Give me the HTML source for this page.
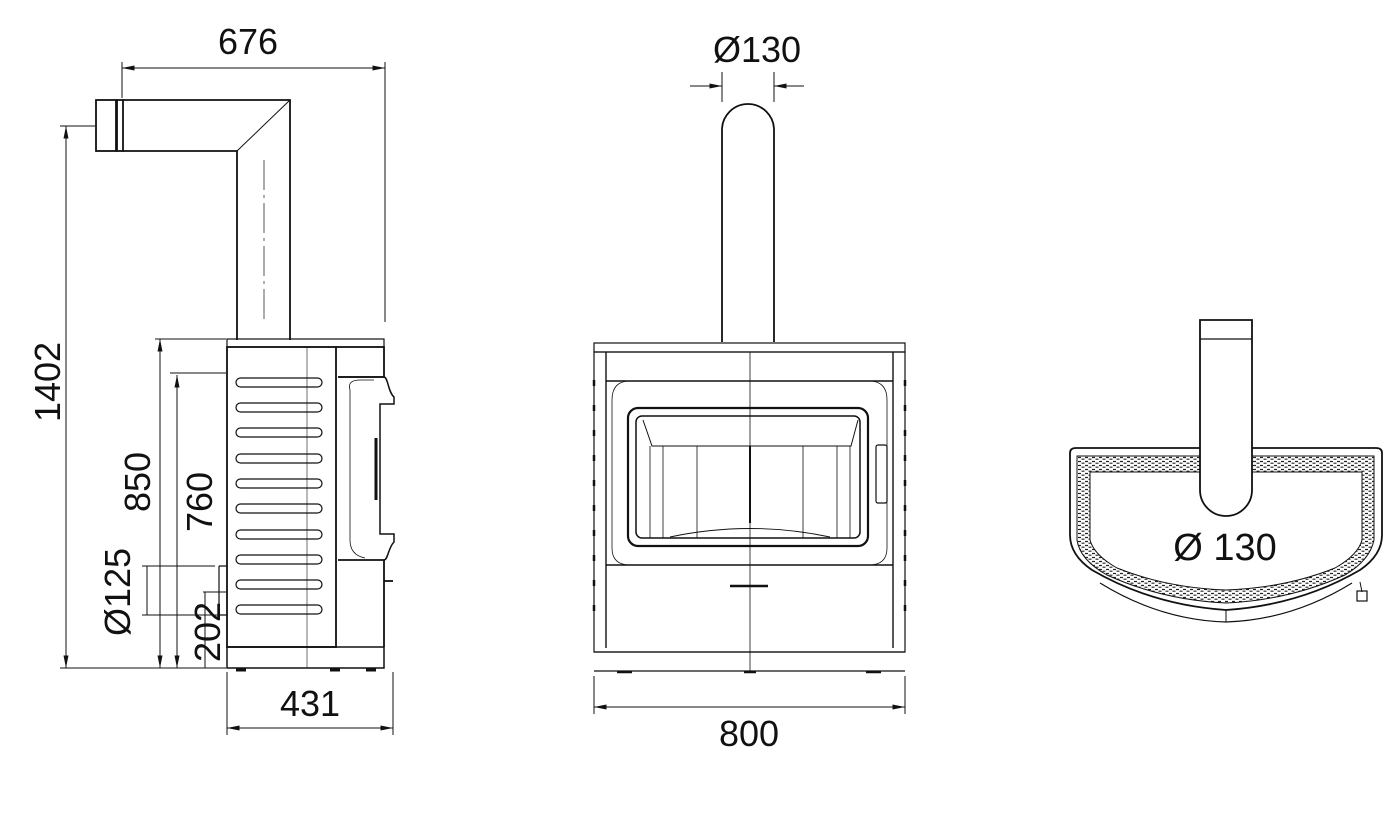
<!DOCTYPE html>
<html><head><style>
html,body{margin:0;padding:0;background:#fff;width:1400px;height:821px;overflow:hidden}
text{font-family:"Liberation Sans",sans-serif;fill:#111}
</style></head><body>
<svg width="1400" height="821" viewBox="0 0 1400 821" xmlns="http://www.w3.org/2000/svg">
<defs>
<marker id="a" viewBox="0 0 10 4" refX="10" refY="2" markerWidth="14" markerHeight="5" orient="auto-start-reverse" markerUnits="userSpaceOnUse"><path d="M0,0 L10,2 L0,4z" fill="#111"/></marker>
<pattern id="h" width="7" height="4" patternUnits="userSpaceOnUse"><path d="M0,1.5 h3 M3.5,3.2 h3" stroke="#222" stroke-width="1.2"/></pattern>
</defs>
<g fill="none" stroke="#111" stroke-width="1">
<line x1="122" y1="62" x2="122" y2="98"/>
<line x1="385" y1="62" x2="385" y2="322"/>
<line x1="122" y1="68" x2="385" y2="68" marker-start="url(#a)" marker-end="url(#a)"/>
<line x1="60" y1="126" x2="95" y2="126"/>
<line x1="60" y1="668" x2="226" y2="668"/>
<line x1="66" y1="126" x2="66" y2="668" marker-start="url(#a)" marker-end="url(#a)"/>
<line x1="155" y1="339" x2="226" y2="339"/>
<line x1="160" y1="339" x2="160" y2="668" marker-start="url(#a)" marker-end="url(#a)"/>
<line x1="170" y1="373" x2="226" y2="373"/>
<line x1="177" y1="375" x2="177" y2="668" marker-start="url(#a)" marker-end="url(#a)"/>
<line x1="142" y1="566" x2="215" y2="566"/>
<line x1="142" y1="615" x2="226" y2="615"/>
<line x1="147" y1="566" x2="147" y2="615"/>
<line x1="203" y1="592" x2="226" y2="592"/>
<line x1="205" y1="592" x2="205" y2="668"/>
<line x1="227" y1="672" x2="227" y2="735"/>
<line x1="393" y1="672" x2="393" y2="735"/>
<line x1="227" y1="728" x2="393" y2="728" marker-start="url(#a)" marker-end="url(#a)"/>
</g>
<g fill="none" stroke="#111" stroke-width="1.8">
<rect x="96" y="100" width="20" height="51"/>
<rect x="117" y="100" width="6" height="51"/>
<path d="M123,100 H290 V340 M123,151 H237 V340"/>
<line x1="237" y1="151" x2="290" y2="100" stroke-width="1"/>
<rect x="227" y="339" width="157" height="8" stroke-width="1.2"/>
<rect x="227" y="347" width="109" height="300"/>
<path d="M336,347 H384 V377 H338 M338,560 H384 V647"/>
<path d="M338,377 H384 C388,377 388,392 394,397 V404 H380 V534 H394 V542 C388,548 388,560 384,560" stroke-width="1.5"/>
<path d="M350,390 Q347,380 360,380 L374,380 M350,390 V540 Q350,555 365,558" stroke-width="0.8"/>
<line x1="376" y1="438" x2="376" y2="500" stroke-width="3"/>
<rect x="227" y="647" width="157" height="21" stroke-width="1.5"/>
<line x1="384" y1="581" x2="393" y2="581"/>
<path d="M219,566 H227 M219,566 V615 H227" stroke-width="1.2"/>
<g stroke-width="1.2">
<rect x="236" y="378" width="86" height="9" rx="4.5"/><rect x="236" y="403" width="86" height="9" rx="4.5"/>
<rect x="236" y="428" width="86" height="9" rx="4.5"/><rect x="236" y="454" width="86" height="9" rx="4.5"/>
<rect x="236" y="479" width="86" height="9" rx="4.5"/><rect x="236" y="504" width="86" height="9" rx="4.5"/>
<rect x="236" y="530" width="86" height="9" rx="4.5"/><rect x="236" y="555" width="86" height="9" rx="4.5"/>
<rect x="236" y="580" width="86" height="9" rx="4.5"/><rect x="236" y="605" width="86" height="9" rx="4.5"/>
</g>
<line x1="264" y1="160" x2="264" y2="320" stroke-width="0.7" stroke-dasharray="30,5,3,5"/>
<line x1="307" y1="347" x2="307" y2="668" stroke-width="0.6"/>
<path d="M236,670 h10 M330,670 h10 M366,670 h10" stroke-width="3"/>

<path d="M722,342 V130 A26,26 0 0 1 774,130 V342"/>
<rect x="594" y="343" width="311" height="9" stroke-width="1.2"/>
<rect x="594" y="352" width="311" height="300" stroke-width="1.2"/>
<path d="M606,352 V648 M893,352 V648 M606,381 H893 M606,565 H893" stroke-width="1.4"/>
<path d="M630,381 Q612,381 612,400 V548 Q612,565 630,565 H869 Q887,565 887,548 V400 Q887,381 869,381" stroke-width="0.8"/>
<rect x="628" y="408" width="240" height="138" rx="10" stroke-width="2.2"/>
<rect x="636" y="416" width="224" height="122" rx="6" stroke-width="1.5"/>
<path d="M643,420 L652,446 H851 L858,420" stroke-width="1"/>
<path d="M650,446 V538 M663,446 V538 M697,446 V538 M803,446 V538 M837,446 V538 M850,446 V538" stroke-width="0.8"/>
<path d="M670,537 Q750,520 830,537" stroke-width="0.9"/>
<rect x="876" y="445" width="11" height="58" rx="2" stroke-width="1.2"/>
<path d="M594,652 H905 M594,671 H905" stroke-width="1.2"/>
<line x1="750" y1="352" x2="750" y2="671" stroke-width="0.8"/>
<line x1="750" y1="446" x2="750" y2="523" stroke-width="2"/>
<path d="M730,586 h38" stroke-width="2.5"/>
<path d="M617,672 h15 M744,672 h12 M866,672 h15" stroke-width="2.5"/>
<g stroke-width="2.5"><path d="M594,380v6M594,405v6M594,430v6M594,455v6M594,480v6M594,505v6M594,530v6M594,555v6M594,580v6M594,605v6M905,380v6M905,405v6M905,430v6M905,455v6M905,480v6M905,505v6M905,530v6M905,555v6M905,580v6M905,605v6"/></g>
</g>
<g fill="none" stroke="#111" stroke-width="1">
<line x1="722" y1="72" x2="722" y2="102"/>
<line x1="774" y1="72" x2="774" y2="102"/>
<line x1="690" y1="86" x2="722" y2="86" marker-end="url(#a)"/>
<line x1="804" y1="86" x2="774" y2="86" marker-end="url(#a)"/>
<line x1="594" y1="676" x2="594" y2="714"/>
<line x1="905" y1="676" x2="905" y2="714"/>
<line x1="594" y1="707" x2="905" y2="707" marker-start="url(#a)" marker-end="url(#a)"/>
</g>
<g stroke="#111" fill="none">
<path d="M1100,583 Q1160,620 1226,622 Q1292,620 1352,583" stroke-width="1.2"/>
<path d="M1070,535 V453 Q1070,448 1076,448 H1376 Q1382,448 1382,453 V535 Q1382,555 1360,570 Q1300,605 1226,610 Q1152,605 1092,570 Q1070,555 1070,535 Z" stroke-width="1.8" fill="#fff"/>
<path d="M1077,540 V456 H1374 V540 Q1370,560 1345,575 Q1290,600 1226,603 Q1162,600 1107,575 Q1080,560 1077,540 Z" fill="url(#h)" stroke-width="1"/>
<path d="M1090,540 V472 H1362 V540 Q1358,555 1335,568 Q1285,588 1226,590 Q1167,588 1117,568 Q1094,555 1090,540 Z" fill="#fff" stroke-width="1"/>
<path d="M1200,320 H1252 V490 A26,26 0 0 1 1200,490 Z" stroke-width="1.8" fill="#fff"/>
<line x1="1200" y1="339" x2="1252" y2="339" stroke-width="1.2"/>
<path d="M1360,582 L1362,592" stroke-width="1"/>
<rect x="1357" y="591" width="10" height="10" stroke-width="1.2"/>
<line x1="1226" y1="610" x2="1226" y2="622" stroke-width="1"/>
</g>
<text x="248" y="54" font-size="36" text-anchor="middle">676</text>
<text transform="translate(60,382) rotate(-90)" font-size="36" text-anchor="middle">1402</text>
<text transform="translate(150,482) rotate(-90)" font-size="36" text-anchor="middle">850</text>
<text transform="translate(212,502) rotate(-90)" font-size="36" text-anchor="middle">760</text>
<text transform="translate(130,592) rotate(-90)" font-size="36" text-anchor="middle">Ø125</text>
<text transform="translate(220,632) rotate(-90)" font-size="36" text-anchor="middle">202</text>
<text x="310" y="716" font-size="36" text-anchor="middle">431</text>
<text x="757" y="62" font-size="36" text-anchor="middle">Ø130</text>
<text x="749" y="746" font-size="36" text-anchor="middle">800</text>
<text x="1225" y="560" font-size="38" text-anchor="middle">Ø 130</text>
</svg>
</body></html>
